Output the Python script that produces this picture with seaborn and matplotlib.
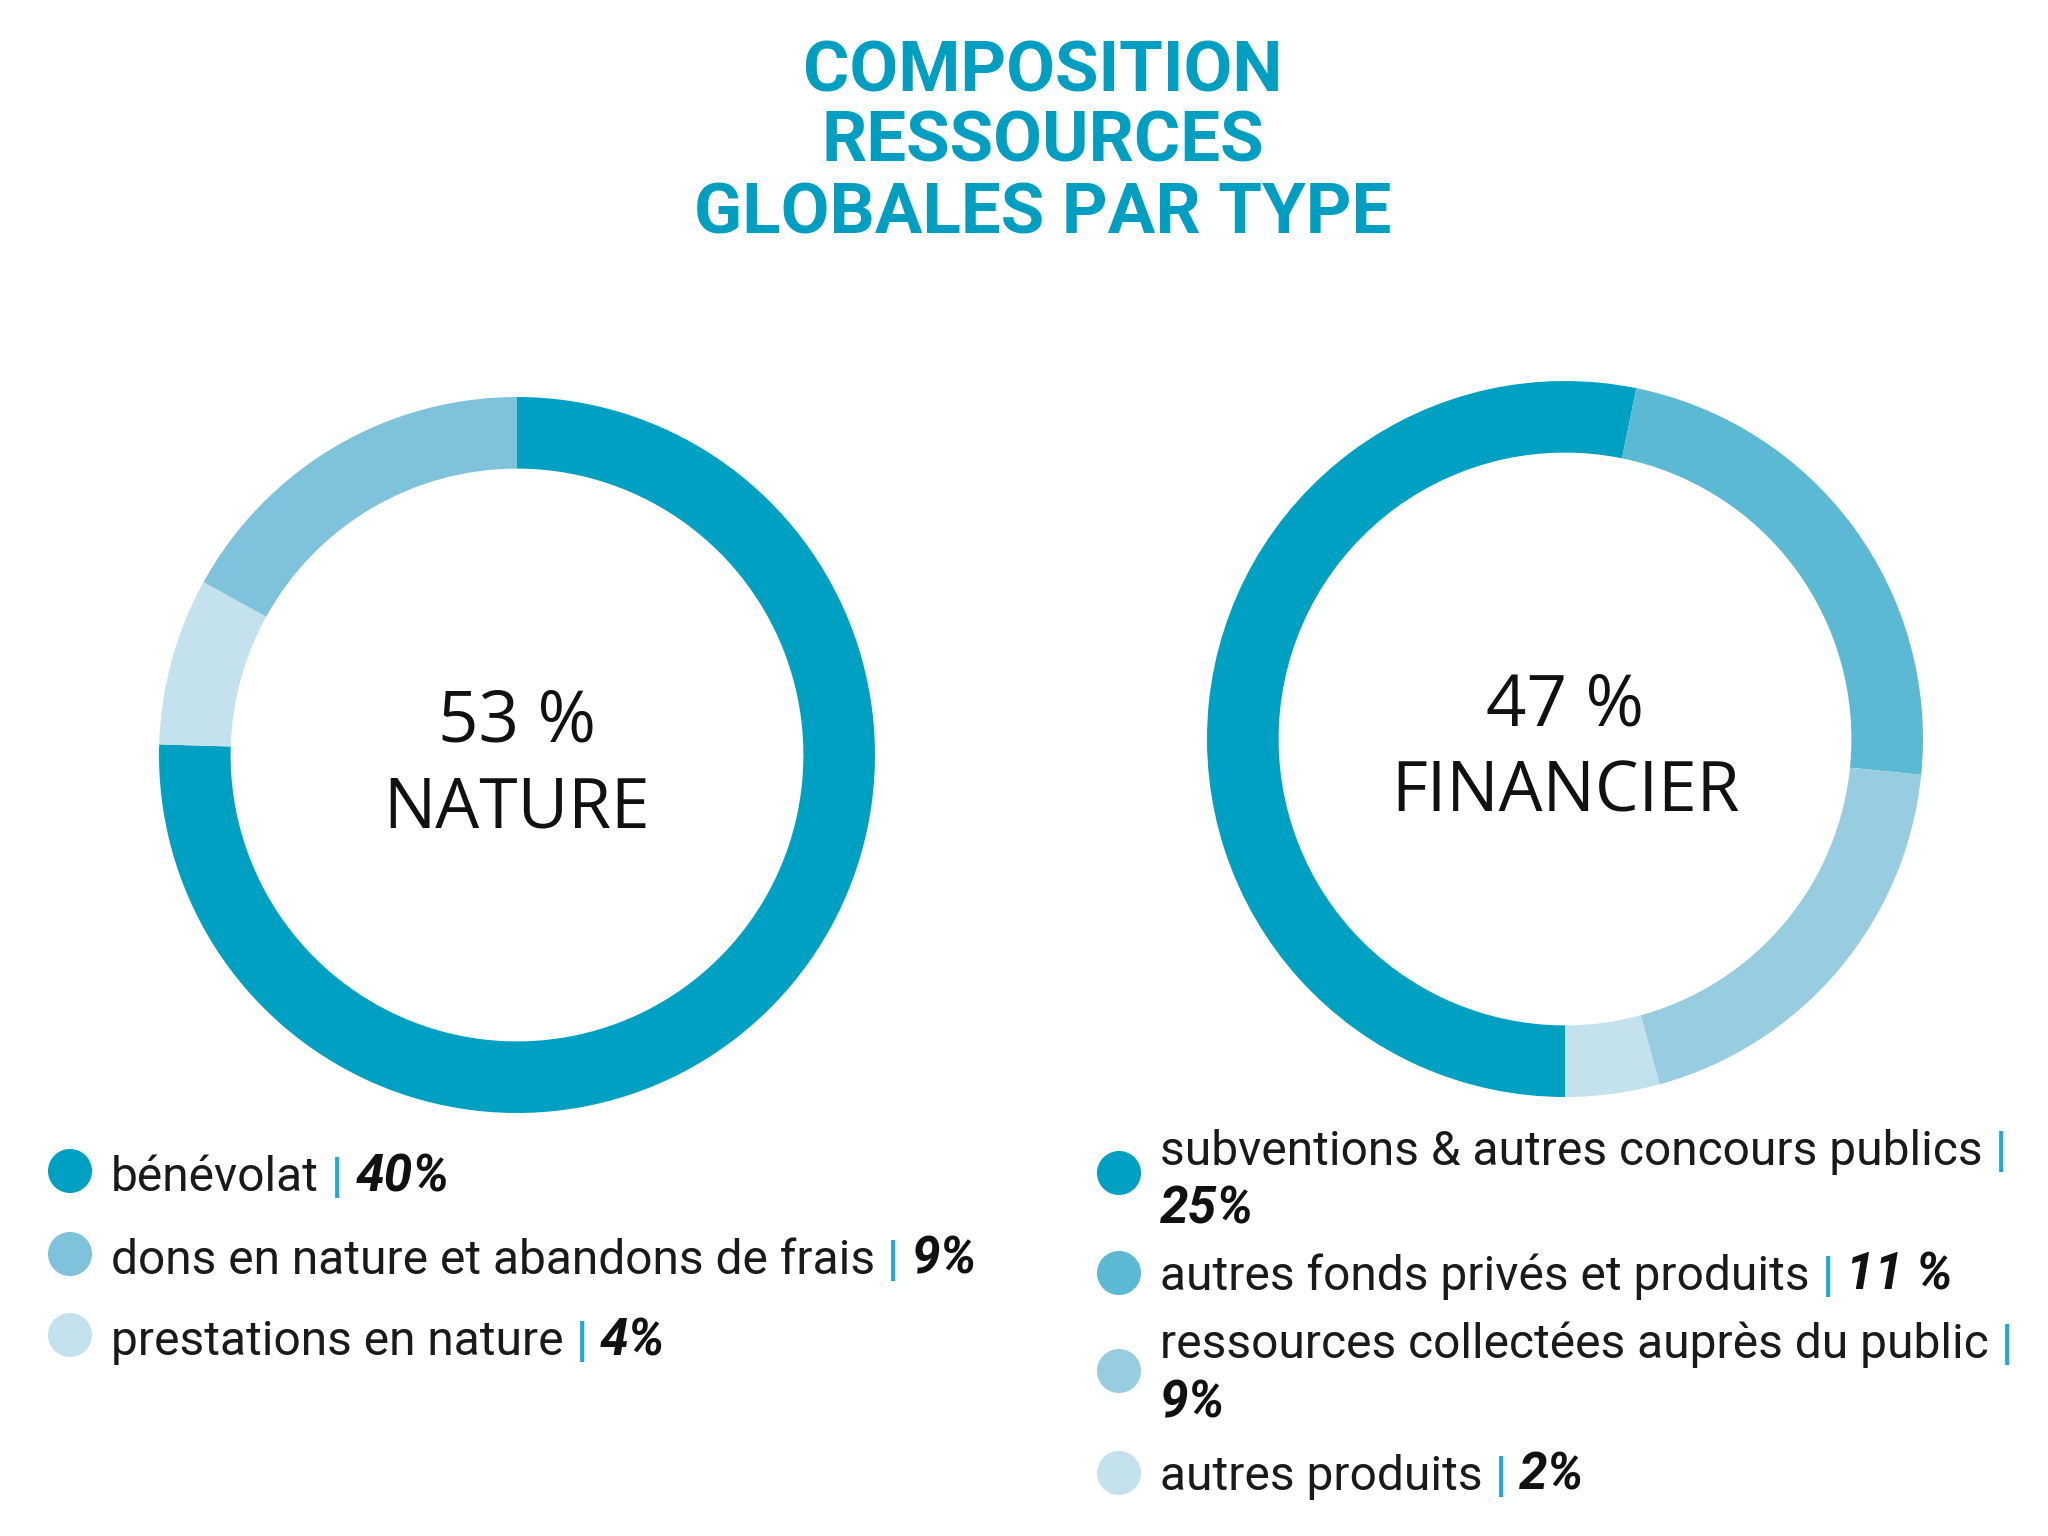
import matplotlib
matplotlib.use("Agg")
import matplotlib.pyplot as plt
import seaborn as sns
from matplotlib import font_manager

sns.set_theme(style="white")

# ---------------- data ----------------
title_lines = ["COMPOSITION", "RESSOURCES", "GLOBALES PAR TYPE"]

nature_title = "NATURE"
nature_labels = ["bénévolat", "dons en nature et abandons de frais", "prestations en nature"]
nature_values = [40, 9, 4]
nature_pct = ["40%", "9%", "4%"]
nature_pie_order = [0, 2, 1]

fin_title = "FINANCIER"
fin_labels = ["subventions & autres concours publics", "autres fonds privés et produits",
              "ressources collectées auprès du public", "autres produits"]
fin_values = [25, 11, 9, 2]
fin_pct = ["25%", "11 %", "9%", "2%"]
fin_wrap = [True, False, True, False]
fin_pie_order = [0, 1, 2, 3]

nature_colors = ["#00A0C2", "#7EC3DB", "#C4E2EE"]
fin_colors = ["#00A0C2", "#5BB9D4", "#98CDE1", "#C4E2EE"]
accent = "#009FC2"
bar_color = "#1FA9D3"

# ---------------- fonts ----------------
avail = {f.name for f in font_manager.fontManager.ttflist}
narrow = "Liberation Sans Narrow" if "Liberation Sans Narrow" in avail else "Roboto"
center_font = "Open Sans" if "Open Sans" in avail else "DejaVu Sans"
plt.rcParams["font.family"] = [narrow, "DejaVu Sans"]

W, H = 2048, 1536
fig = plt.figure(figsize=(W / 100, H / 100), dpi=100)
fig.patch.set_facecolor("white")

# overlay axes in pixel coordinates
ov = fig.add_axes([0, 0, 1, 1])
ov.set_xlim(0, W)
ov.set_ylim(H, 0)
ov.axis("off")


def donut(cx, cy, r, values, colors, order, start):
    ax = fig.add_axes([(cx - r) / W, (H - cy - r) / H, 2 * r / W, 2 * r / H])
    vals = [values[i] for i in order]
    cols = [colors[i] for i in order]
    ax.pie(vals, colors=cols, startangle=start, counterclock=False, radius=1,
           wedgeprops=dict(width=0.2, linewidth=0))
    ax.set_xlim(-1, 1)
    ax.set_ylim(-1, 1)
    ax.set_aspect("equal")
    ax.axis("off")
    return ax


R = 358
donut(517, 755, R, nature_values, nature_colors, nature_pie_order, 90)
donut(1565, 739, R, fin_values, fin_colors, fin_pie_order, -90)

# title
for line, yb in zip(title_lines, [91, 162, 234]):
    ov.text(1043, yb, line, ha="center", va="baseline", fontsize=51,
            fontweight="bold", color=accent, family=[narrow, "DejaVu Sans"])

# center texts
cfam = [center_font, "DejaVu Sans"]
ov.text(517, 742, f"{sum(nature_values)} %", ha="center", va="baseline", fontsize=51,
        color="#111111", family=cfam, fontweight="medium")
ov.text(517, 827, nature_title, ha="center", va="baseline", fontsize=50,
        color="#111111", family=cfam, fontweight="medium")
ov.text(1565, 726, f"{sum(fin_values)} %", ha="center", va="baseline", fontsize=51,
        color="#111111", family=cfam, fontweight="medium")
ov.text(1565, 811, fin_title, ha="center", va="baseline", fontsize=50,
        color="#111111", family=cfam, fontweight="medium")

renderer = fig.canvas.get_renderer()
LEG_FS = 34.5
PCT_FS = 37


def run_text(x, y, s, fs=LEG_FS, **kw):
    t = ov.text(x, y, s, ha="left", va="baseline", fontsize=fs,
                family=[narrow, "DejaVu Sans"], **kw)
    bb = t.get_window_extent(renderer=renderer)
    return x + bb.width  # pixel coords == data coords in x


def legend_item(mx, my, color, label, pct, baselines, wrap):
    ov.scatter([mx], [my], s=(2 * 22) ** 2 * 0.52, color=color, edgecolors="none", zorder=3)
    tx = mx + 41
    x = run_text(tx, baselines[0], label, color="#1a1a1a")
    x = run_text(x + 12, baselines[0], "|", color=bar_color, fontweight="bold")
    if wrap:
        run_text(tx, baselines[1], pct, fs=PCT_FS, color="#111111", fontweight="bold", style="italic")
    else:
        run_text(x + 12, baselines[0], pct, fs=PCT_FS, color="#111111", fontweight="bold", style="italic")


for lab, pct, col, my in zip(nature_labels, nature_pct, nature_colors, [1171, 1254, 1335]):
    legend_item(70, my, col, lab, pct, [my + 20], False)

fin_marker_y = [1173, 1273, 1371, 1473]
fin_baselines = [[1165, 1223], [1290], [1358, 1418], [1490]]
for lab, pct, col, my, bl, wr in zip(fin_labels, fin_pct, fin_colors, fin_marker_y, fin_baselines, fin_wrap):
    legend_item(1119, my, col, lab, pct, bl, wr)

fig.savefig("out.png", dpi=100, facecolor="white")
